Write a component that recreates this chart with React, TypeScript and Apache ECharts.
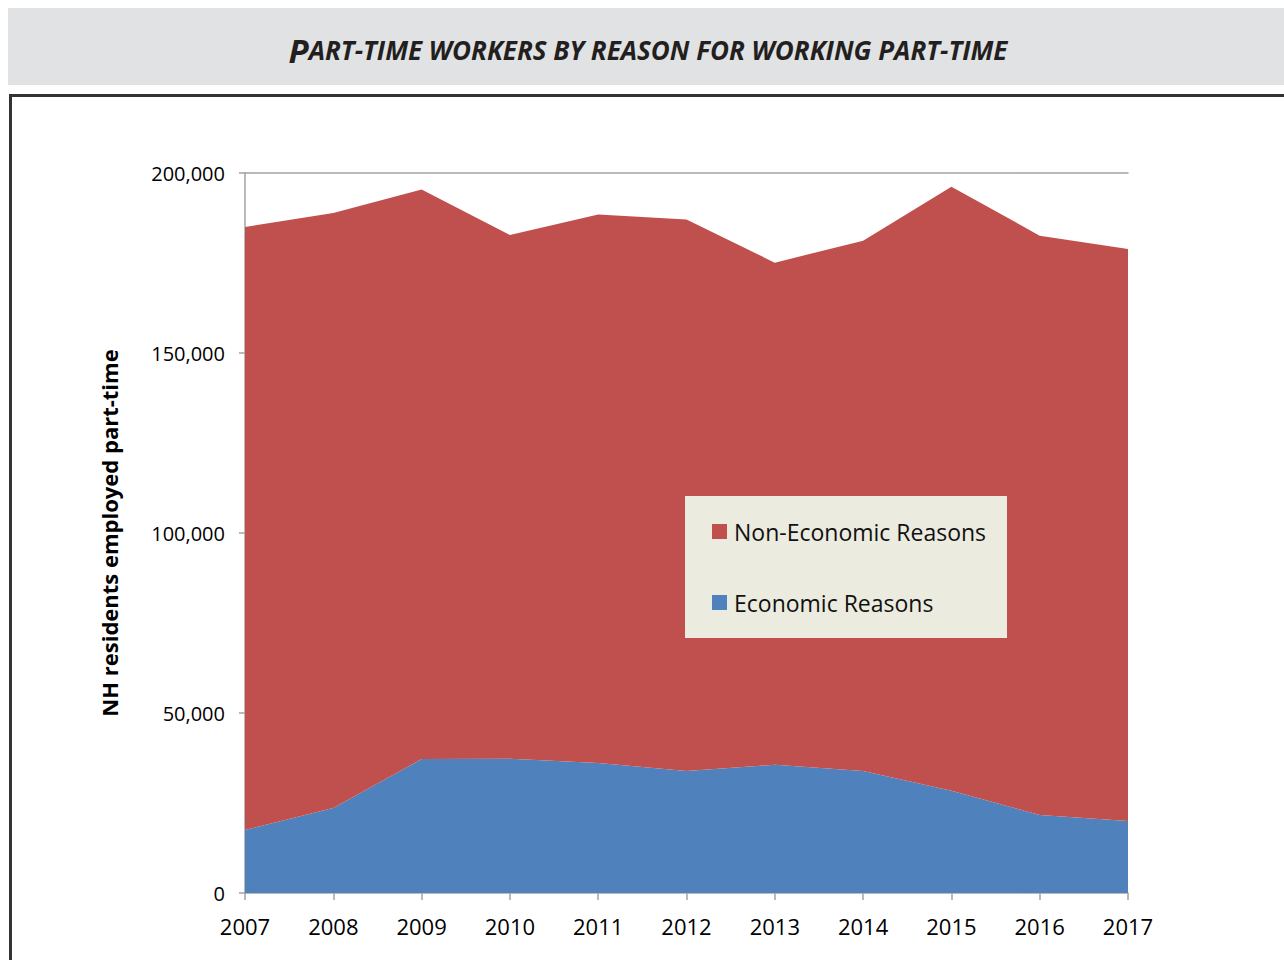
import React, { useEffect, useRef } from 'react';
import * as echarts from 'echarts';

const years = ['2007', '2008', '2009', '2010', '2011', '2012', '2013', '2014', '2015', '2016', '2017'];
const economicReasons = [17500, 23600, 37200, 37300, 36100, 33900, 35600, 33900, 28400, 21700, 20000];
const nonEconomicReasons = [167500, 165300, 158200, 145500, 152400, 153200, 139500, 147300, 167800, 160900, 158900];
const yTicks = [0, 50000, 100000, 150000, 200000];
const titleText = 'Part-time workers by reason for working part-time';
const yAxisTitle = 'NH residents employed part-time';
const legendNames = ['Non-Economic Reasons', 'Economic Reasons'];

const RED = '#c0504d';
const BLUE = '#4f81bd';
const AXIS = '#a3a3a3';
const FONT = '"Open Sans", "Noto Sans", sans-serif';

function smallCapsTitle(t: string) {
  const first = t.charAt(0);
  const rest = t.slice(1).toUpperCase();
  return `{a|${first}}{b|${rest}}`;
}

export default function App() {
  const ref = useRef<HTMLDivElement>(null);
  useEffect(() => {
    const chart = echarts.init(ref.current!, null, { renderer: 'svg' });
    const option: any = {
      animation: false,
      backgroundColor: '#ffffff',
      textStyle: { fontFamily: FONT },
      graphic: [
        {
          type: 'rect',
          shape: { x: 8, y: 8, width: 1276, height: 77 },
          style: { fill: '#e1e2e3' },
          z: 0,
        },
        {
          type: 'rect',
          shape: { x: 10.5, y: 95.5, width: 1300, height: 900 },
          style: { fill: 'none', stroke: '#333333', lineWidth: 3 },
          z: 0,
        },
        {
          type: 'text',
          x: 648,
          y: 50,
          style: {
            text: smallCapsTitle(titleText),
            align: 'center',
            verticalAlign: 'middle',
            rich: {
              a: { fontFamily: FONT, fontSize: 33, fontWeight: 'bold', fontStyle: 'italic', fill: '#231f20' },
              b: { fontFamily: FONT, fontSize: 26, fontWeight: 'bold', fontStyle: 'italic', fill: '#231f20' },
            },
          },
          z: 5,
        },
        {
          type: 'rect',
          shape: { x: 685, y: 496, width: 322, height: 142 },
          style: { fill: '#ecebe0' },
          z: 3,
        },
      ],
      legend: {
        data: legendNames,
        orient: 'vertical',
        left: 712,
        top: 520,
        padding: 0,
        itemWidth: 15,
        itemHeight: 15,
        itemGap: 48,
        icon: 'rect',
        z: 4,
        textStyle: { fontFamily: FONT, fontSize: 23, lineHeight: 22, color: '#111', padding: [0, 0, 0, 2] },
      },
      grid: { left: 245, right: 156, top: 173, bottom: 67, containLabel: false },
      xAxis: [
        {
          type: 'category',
          data: years,
          boundaryGap: false,
          axisLine: { show: true, lineStyle: { color: AXIS, width: 1.5 } },
          axisTick: { show: true, length: 7, lineStyle: { color: AXIS, width: 1.5 } },
          axisLabel: { color: '#000', fontFamily: FONT, fontSize: 22, margin: 22 },
          splitLine: { show: false },
        },
        {
          type: 'category',
          data: years,
          boundaryGap: false,
          position: 'top',
          axisLine: { show: true, lineStyle: { color: AXIS, width: 1.5 } },
          axisTick: { show: false },
          axisLabel: { show: false },
          splitLine: { show: false },
        },
      ],
      yAxis: {
        type: 'value',
        min: yTicks[0],
        max: yTicks[yTicks.length - 1],
        interval: yTicks[1] - yTicks[0],
        name: yAxisTitle,
        nameLocation: 'middle',
        nameGap: 125,
        nameRotate: 90,
        nameTextStyle: { fontFamily: FONT, fontSize: 22, fontWeight: 'bold', color: '#000' },
        axisLine: { show: true, lineStyle: { color: AXIS, width: 1.5 } },
        axisTick: { show: true, length: 6, lineStyle: { color: AXIS, width: 1.5 } },
        axisLabel: {
          color: '#000',
          fontFamily: FONT,
          fontSize: 20,
          margin: 20,
          formatter: (v: number) => v.toLocaleString('en-US'),
        },
        splitLine: { show: false },
      },
      series: [
        {
          name: 'Economic Reasons',
          type: 'line',
          stack: 'total',
          data: economicReasons,
          symbol: 'none',
          lineStyle: { width: 0 },
          itemStyle: { color: BLUE },
          areaStyle: { color: BLUE, opacity: 1 },
          z: 2,
        },
        {
          name: 'Non-Economic Reasons',
          type: 'line',
          stack: 'total',
          data: nonEconomicReasons,
          symbol: 'none',
          lineStyle: { width: 0 },
          itemStyle: { color: RED },
          areaStyle: { color: RED, opacity: 1 },
          z: 2,
        },
      ],
    };
    chart.setOption(option);
    return () => chart.dispose();
  }, []);
  return (
    <div
      ref={ref}
      style={{ position: 'absolute', left: 0, top: 0, width: 1284, height: 960, background: '#fff' }}
    />
  );
}
